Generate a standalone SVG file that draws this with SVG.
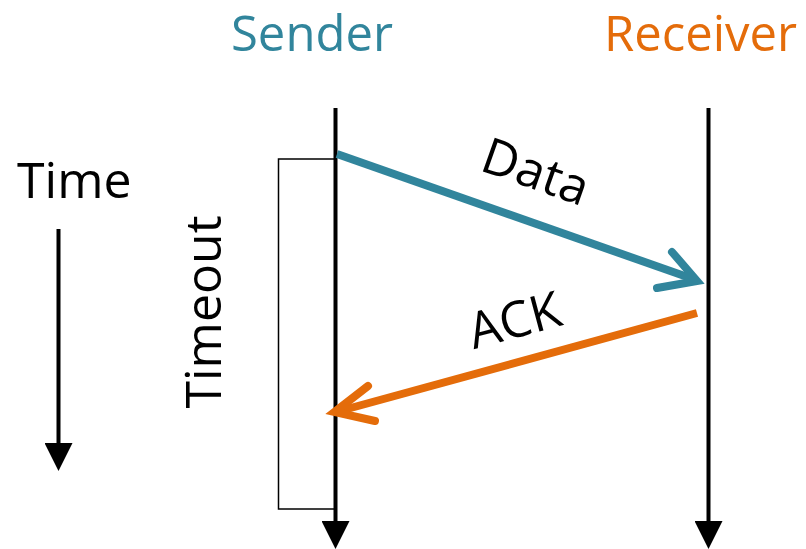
<svg xmlns="http://www.w3.org/2000/svg" width="806" height="549" viewBox="0 0 806 549">
  <style>
    .lbl { font-family: "Open Sans", "Liberation Sans", sans-serif; font-size: 50px; }
    .hdr { font-size: 49px; }
    .life { stroke: #000; stroke-width: 4; fill: none; }
    .teal { fill: #31859C; }
    .orange { fill: #E46C0A; }
    .msg { fill: none; stroke-width: 8; stroke-linecap: butt; }
    .head { fill: none; stroke-width: 8; stroke-linecap: round; stroke-linejoin: miter; stroke-miterlimit: 10; }
  </style>
  <defs>
    <marker id="tri" markerUnits="userSpaceOnUse" markerWidth="28" markerHeight="28" viewBox="0 0 28 28" refX="0" refY="14" orient="auto">
      <path d="M0,0 L28,14 L0,28 Z" fill="#000"/>
    </marker>
  </defs>
  <rect width="806" height="549" fill="#fff"/>

  <g id="sender">
    <text class="lbl hdr teal" x="231" y="51">Sender</text>
    <line class="life" x1="335.5" y1="108" x2="335.5" y2="521" marker-end="url(#tri)"/>
  </g>
  <g id="receiver">
    <text class="lbl hdr orange" x="604" y="51">Receiver</text>
    <line class="life" x1="708.5" y1="108" x2="708.5" y2="521" marker-end="url(#tri)"/>
  </g>
  <g id="time">
    <text class="lbl" x="17" y="198" fill="#000">Time</text>
    <line class="life" x1="58.5" y1="229" x2="58.5" y2="443" marker-end="url(#tri)"/>
  </g>
  <g id="timeout">
    <rect x="278.5" y="159" width="57" height="350" fill="none" stroke="#000" stroke-width="1.5"/>
    <text class="lbl" transform="translate(221,312) rotate(-90)" text-anchor="middle" fill="#000">Timeout</text>
  </g>

  <g id="connectors">
    <g id="data">
      <line class="msg" x1="337" y1="154" x2="696" y2="280" stroke="#31859C"/>
      <polyline class="head" points="672,252 697,281 657,288" stroke="#31859C"/>
      <text class="lbl" transform="translate(530,188) rotate(19.5)" text-anchor="middle" fill="#000">Data</text>
    </g>
    <g id="ack">
      <line class="msg" x1="697" y1="313" x2="336" y2="412" stroke="#E46C0A"/>
      <polyline class="head" points="368,386 334.5,412 375,421" stroke="#E46C0A"/>
      <text class="lbl" transform="translate(519,337) rotate(-15)" text-anchor="middle" fill="#000">ACK</text>
    </g>
  </g>
</svg>
